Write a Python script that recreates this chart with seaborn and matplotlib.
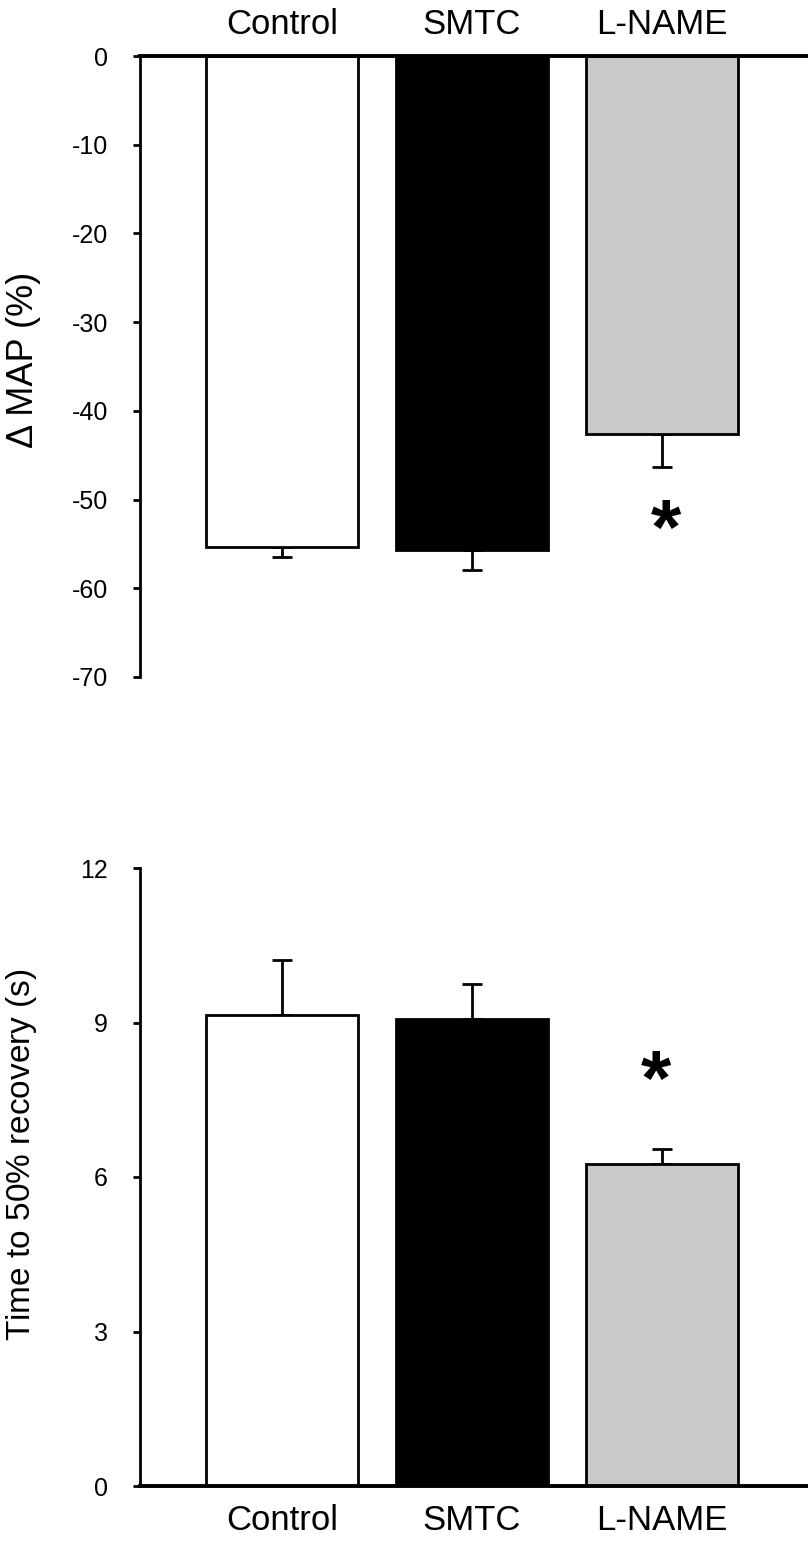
import matplotlib
matplotlib.use("Agg")
import matplotlib.pyplot as plt
import seaborn as sns
import numpy as np
import pandas as pd

# data
groups = ["Control", "SMTC", "L-NAME"]
bar_colors = ["#ffffff", "#000000", "#c9c9c9"]

map_change = [-55.4, -55.7, -42.6]
map_sem = [1.1, 2.2, 3.7]

recovery_time = [9.15, 9.07, 6.26]
recovery_sem = [1.06, 0.68, 0.28]

# significance marks (group index, value at centre of star)
sig_top = [(2.02, -52.1)]
sig_bottom = [(1.97, 8.10)]

sns.set_theme(style="white")
plt.rcParams["font.family"] = ["Liberation Sans", "DejaVu Sans"]
plt.rcParams["axes.unicode_minus"] = False
plt.rcParams["mathtext.fontset"] = "custom"
plt.rcParams["mathtext.rm"] = "Liberation Sans"
plt.rcParams["mathtext.it"] = "Liberation Sans:italic"
for key in ["text.color", "axes.labelcolor", "axes.edgecolor",
            "xtick.color", "ytick.color"]:
    plt.rcParams[key] = "black"

df_map = pd.DataFrame({"group": groups, "value": map_change})
df_rec = pd.DataFrame({"group": groups, "value": recovery_time})
palette = dict(zip(groups, bar_colors))

fig = plt.figure(figsize=(8.08, 15.48), dpi=100)
W, H = 808, 1548
left = 140 / W
ax1 = fig.add_axes([left, 1 - 677 / H, 1 - left, (677 - 56) / H])
ax2 = fig.add_axes([left, 1 - 1486 / H, 1 - left, (1486 - 868) / H])

xlim = ((140 - 282) / 190, (808 - 282) / 190)


def draw_bars(ax, df, sem, upward):
    sns.barplot(data=df, x="group", y="value", hue="group", palette=palette,
                order=groups, hue_order=groups, errorbar=None, legend=False,
                edgecolor="black", linewidth=2.0, width=0.8, ax=ax, zorder=2)
    xs = np.arange(len(groups))
    if upward:
        yerr = [np.zeros(len(sem)), sem]
    else:
        yerr = [sem, np.zeros(len(sem))]
    ax.errorbar(xs, df["value"], yerr=yerr, fmt="none", ecolor="black",
                elinewidth=2.0, capsize=7.5, capthick=2.0, zorder=1)
    ax.set_xlim(*xlim)
    ax.set_xlabel("")
    ax.tick_params(axis="y", left=True, length=5, width=2.0, pad=18,
                   labelsize=18, direction="out")
    ax.spines["left"].set_linewidth(2.0)


def add_star(ax, x, y):
    ax.annotate("*", xy=(x, y), xytext=(0, -26), textcoords="offset points",
                fontsize=56, fontweight="bold", ha="center", va="baseline",
                color="black")


# top panel: change in MAP
draw_bars(ax1, df_map, map_sem, upward=False)
ax1.set_ylim(-70, 0)
ax1.set_yticks(np.arange(-70, 1, 10))
ax1.xaxis.tick_top()
ax1.tick_params(axis="x", length=0, pad=11, labelsize=25)
for s in ["right", "bottom"]:
    ax1.spines[s].set_visible(False)
ax1.spines["top"].set_linewidth(2.8)
ax1.spines["top"].set_zorder(3)
ax1.set_ylabel("\u0394 MAP (%)", fontsize=26)
ax1.yaxis.set_label_coords(-0.148, 0.51)
for x, y in sig_top:
    add_star(ax1, x, y)

# bottom panel: time to 50% recovery
draw_bars(ax2, df_rec, recovery_sem, upward=True)
ax2.set_ylim(0, 12)
ax2.set_yticks(np.arange(0, 13, 3))
ax2.tick_params(axis="x", length=0, pad=13, labelsize=25)
for s in ["right", "top"]:
    ax2.spines[s].set_visible(False)
ax2.spines["bottom"].set_linewidth(2.8)
ax2.spines["bottom"].set_zorder(3)
ax2.set_ylabel("Time to $\\mathit{50\\%}$ recovery (s)", fontsize=24)
ax2.yaxis.set_label_coords(-0.151, 0.536)
for x, y in sig_bottom:
    add_star(ax2, x, y)

fig.savefig("out.png", dpi=100)
